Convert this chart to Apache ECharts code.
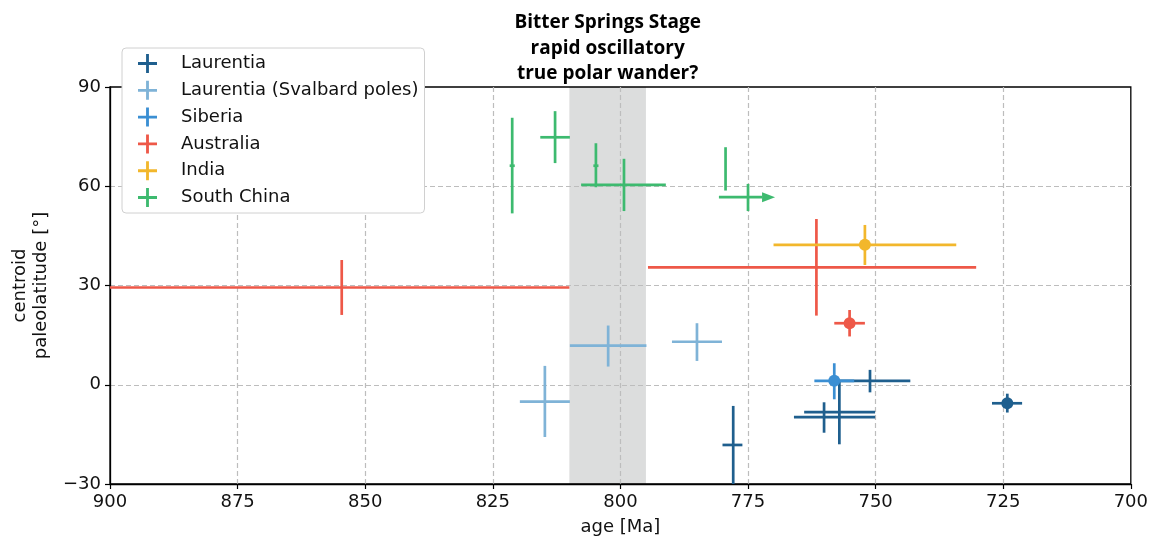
<!DOCTYPE html>
<html>
<head>
<meta charset="utf-8">
<script src="https://cdn.jsdelivr.net/npm/echarts@6/dist/echarts.min.js"></script>
<style>
  html, body { margin: 0; padding: 0; background: #fff; }
  #chart { width: 1151px; height: 541px; }
</style>
</head>
<body>
<div id="chart"></div>
<script>
'use strict';

// rows: [age, lat, ageOld, ageYoung, latLow, latHigh]
const laurentia = [
  [751.1, 1.2, 759.0, 743.2, -2.3, 4.5],
  [757.1, -8.3, 764.0, 750.1, -18.0, 1.4],
  [760.1, -9.8, 766.0, 750.1, -14.5, -5.3],
  [777.9, -18.2, 780.0, 776.1, -30.0, -6.4]
];
const laurentiaDots = [[724.2, -5.6, 727.2, 721.3, -8.4, -2.7]];
const svalbard = [
  [814.8, -5.1, 819.7, 809.9, -15.8, 5.7],
  [802.4, 11.8, 809.9, 794.9, 5.5, 17.9],
  [785.0, 13.0, 789.9, 780.1, 7.2, 18.6]
];
const siberiaDots = [[758.1, 1.2, 762.0, 754.2, -4.4, 6.5]];
const australia = [
  [854.6, 29.4, 900.0, 810.0, 21.1, 37.7],
  [761.6, 35.5, 794.6, 730.3, 20.9, 50.1]
];
const australiaDots = [[755.1, 18.6, 758.1, 752.1, 14.6, 22.6]];
const indiaDots = [[752.1, 42.3, 770.0, 734.2, 36.2, 48.3]];
const southChina = [
  [821.2, 66.2, 821.7, 820.7, 51.8, 80.7],
  [812.8, 74.8, 815.7, 809.9, 67.0, 82.7],
  [804.8, 66.2, 805.3, 804.3, 59.7, 73.0],
  [799.3, 60.4, 807.7, 791.1, 52.5, 68.3],
  [779.4, 65.2, 779.4, 779.4, 58.7, 71.8]
];
const southChinaArrows = [[775.0, 56.7, 780.7, 769.7, 52.5, 60.7]];
const bitterSprings = [[810, 795]];

const ageRange = [700, 900];
const ageStep = 25;
const latRange = [-30, 90];
const latStep = 30;
const titleLines = ['Bitter Springs Stage', 'rapid oscillatory', 'true polar wander?'];

const COLORS = {
  laurentia: '#1f5f8e',
  svalbard: '#7fb3d7',
  siberia: '#3b8fd3',
  australia: '#ee5848',
  india: '#f2b72c',
  southChina: '#3dba6f'
};
const LINE_W = 2.7;
const DOT_R = 6;
const HEAD_LEN = 13;
const HEAD_HALF = 5;
const PLUS_ICON = 'path://M0,8.5H8.5V0H11.5V8.5H20V11.5H11.5V20H8.5V11.5H0Z';
const FONT = "'DejaVu Sans', sans-serif";
const FS = 18;

function errorbarRender(dot, arrow) {
  return function (params, api) {
    const age = api.value(0);
    const lat = api.value(1);
    const c = api.coord([age, lat]);
    const left = api.coord([api.value(2), lat]);
    const right = api.coord([api.value(3), lat]);
    const low = api.coord([age, api.value(4)]);
    const high = api.coord([age, api.value(5)]);
    const color = api.visual('color');
    const style = { stroke: color, lineWidth: LINE_W };
    const hEnd = arrow ? right[0] - HEAD_LEN : right[0];
    const children = [
      { type: 'line', shape: { x1: left[0], y1: c[1], x2: hEnd, y2: c[1] }, style: style },
      { type: 'line', shape: { x1: c[0], y1: low[1], x2: c[0], y2: high[1] }, style: style }
    ];
    if (arrow) {
      children.push({
        type: 'polygon',
        shape: { points: [[right[0], c[1]], [hEnd, c[1] - HEAD_HALF], [hEnd, c[1] + HEAD_HALF]] },
        style: { fill: color }
      });
    }
    if (dot) {
      children.push({ type: 'circle', shape: { cx: c[0], cy: c[1], r: DOT_R }, style: { fill: color } });
    }
    return { type: 'group', children: children };
  };
}

function errSeries(name, color, data, dot, arrow) {
  return {
    type: 'custom',
    name: name,
    data: data,
    itemStyle: { color: color },
    renderItem: errorbarRender(dot, arrow),
    z: 3
  };
}

function bandRender(params, api) {
  const a = api.coord([api.value(0), 0]);
  const b = api.coord([api.value(1), 0]);
  const cs = params.coordSys;
  return {
    type: 'rect',
    shape: { x: Math.min(a[0], b[0]), y: cs.y, width: Math.abs(b[0] - a[0]), height: cs.height },
    style: { fill: '#dcdddd' }
  };
}

const legendNames = ['Laurentia', 'Laurentia (Svalbard poles)', 'Siberia', 'Australia', 'India', 'South China'];
const gridDash = { show: true, showMinLine: false, showMaxLine: false, lineStyle: { color: '#bdbdbd', type: [5, 3], width: 1.2 } };

const chart = echarts.init(document.getElementById('chart'));
chart.setOption({
  animation: false,
  textStyle: { fontFamily: FONT },
  grid: {
    left: 110, right: 19, top: 87, bottom: 57,
    show: true, borderColor: '#000', borderWidth: 1.3, backgroundColor: 'transparent'
  },
  legend: {
    orient: 'vertical',
    left: 122,
    top: 48,
    padding: [6, 6, 6, 16],
    itemWidth: 19,
    itemHeight: 19,
    itemGap: 7.8,
    backgroundColor: '#fff',
    borderColor: '#d0d0d0',
    borderWidth: 1,
    borderRadius: 4,
    data: legendNames.map((n) => ({ name: n, icon: PLUS_ICON })),
    textStyle: { fontFamily: FONT, fontSize: FS, color: '#111', padding: [0, 0, 0, 19] }
  },
  xAxis: {
    type: 'value',
    min: ageRange[0],
    max: ageRange[1],
    interval: ageStep,
    inverse: true,
    name: 'age [Ma]',
    nameLocation: 'middle',
    nameGap: 34,
    nameTextStyle: { fontFamily: FONT, fontSize: FS, color: '#111' },
    axisLine: { onZero: false, lineStyle: { color: '#000', width: 1.3 } },
    axisTick: { length: 5, lineStyle: { color: '#000', width: 1.2 } },
    axisLabel: { margin: 9, fontFamily: FONT, fontSize: FS, color: '#111' },
    splitLine: gridDash
  },
  yAxis: {
    type: 'value',
    min: latRange[0],
    max: latRange[1],
    interval: latStep,
    name: 'centroid\npaleolatitude [°]',
    nameLocation: 'middle',
    nameGap: 55,
    nameTextStyle: { fontFamily: FONT, fontSize: FS, color: '#111', lineHeight: 21.5 },
    axisLine: { show: true, onZero: false, lineStyle: { color: '#000', width: 1.3 } },
    axisTick: { show: true, length: 5, lineStyle: { color: '#000', width: 1.2 } },
    axisLabel: {
      margin: 9, fontFamily: FONT, fontSize: FS, color: '#111',
      formatter: (v) => String(v).replace('-', '\u2212')
    },
    splitLine: gridDash
  },
  series: [
    { type: 'custom', name: 'band', data: bitterSprings, renderItem: bandRender, silent: true, z: -1 },
    errSeries('Laurentia', COLORS.laurentia, laurentia, false, false),
    errSeries('Laurentia', COLORS.laurentia, laurentiaDots, true, false),
    errSeries('Laurentia (Svalbard poles)', COLORS.svalbard, svalbard, false, false),
    errSeries('Siberia', COLORS.siberia, siberiaDots, true, false),
    errSeries('Australia', COLORS.australia, australia, false, false),
    errSeries('Australia', COLORS.australia, australiaDots, true, false),
    errSeries('India', COLORS.india, indiaDots, true, false),
    errSeries('South China', COLORS.southChina, southChina, false, false),
    errSeries('South China', COLORS.southChina, southChinaArrows, false, true)
  ]
});

// annotation centred over the Bitter Springs band
const bandMid = (bitterSprings[0][0] + bitterSprings[0][1]) / 2;
const titleX = chart.convertToPixel({ xAxisIndex: 0 }, bandMid);
chart.setOption({
  graphic: [{
    type: 'text',
    x: titleX,
    y: 10,
    style: {
      text: titleLines.join('\n'),
      align: 'center',
      fontFamily: "'Open Sans', sans-serif",
      fontWeight: 'bold',
      fontSize: 19,
      lineHeight: 25.5,
      fill: '#000'
    }
  }]
});
</script>
</body>
</html>
